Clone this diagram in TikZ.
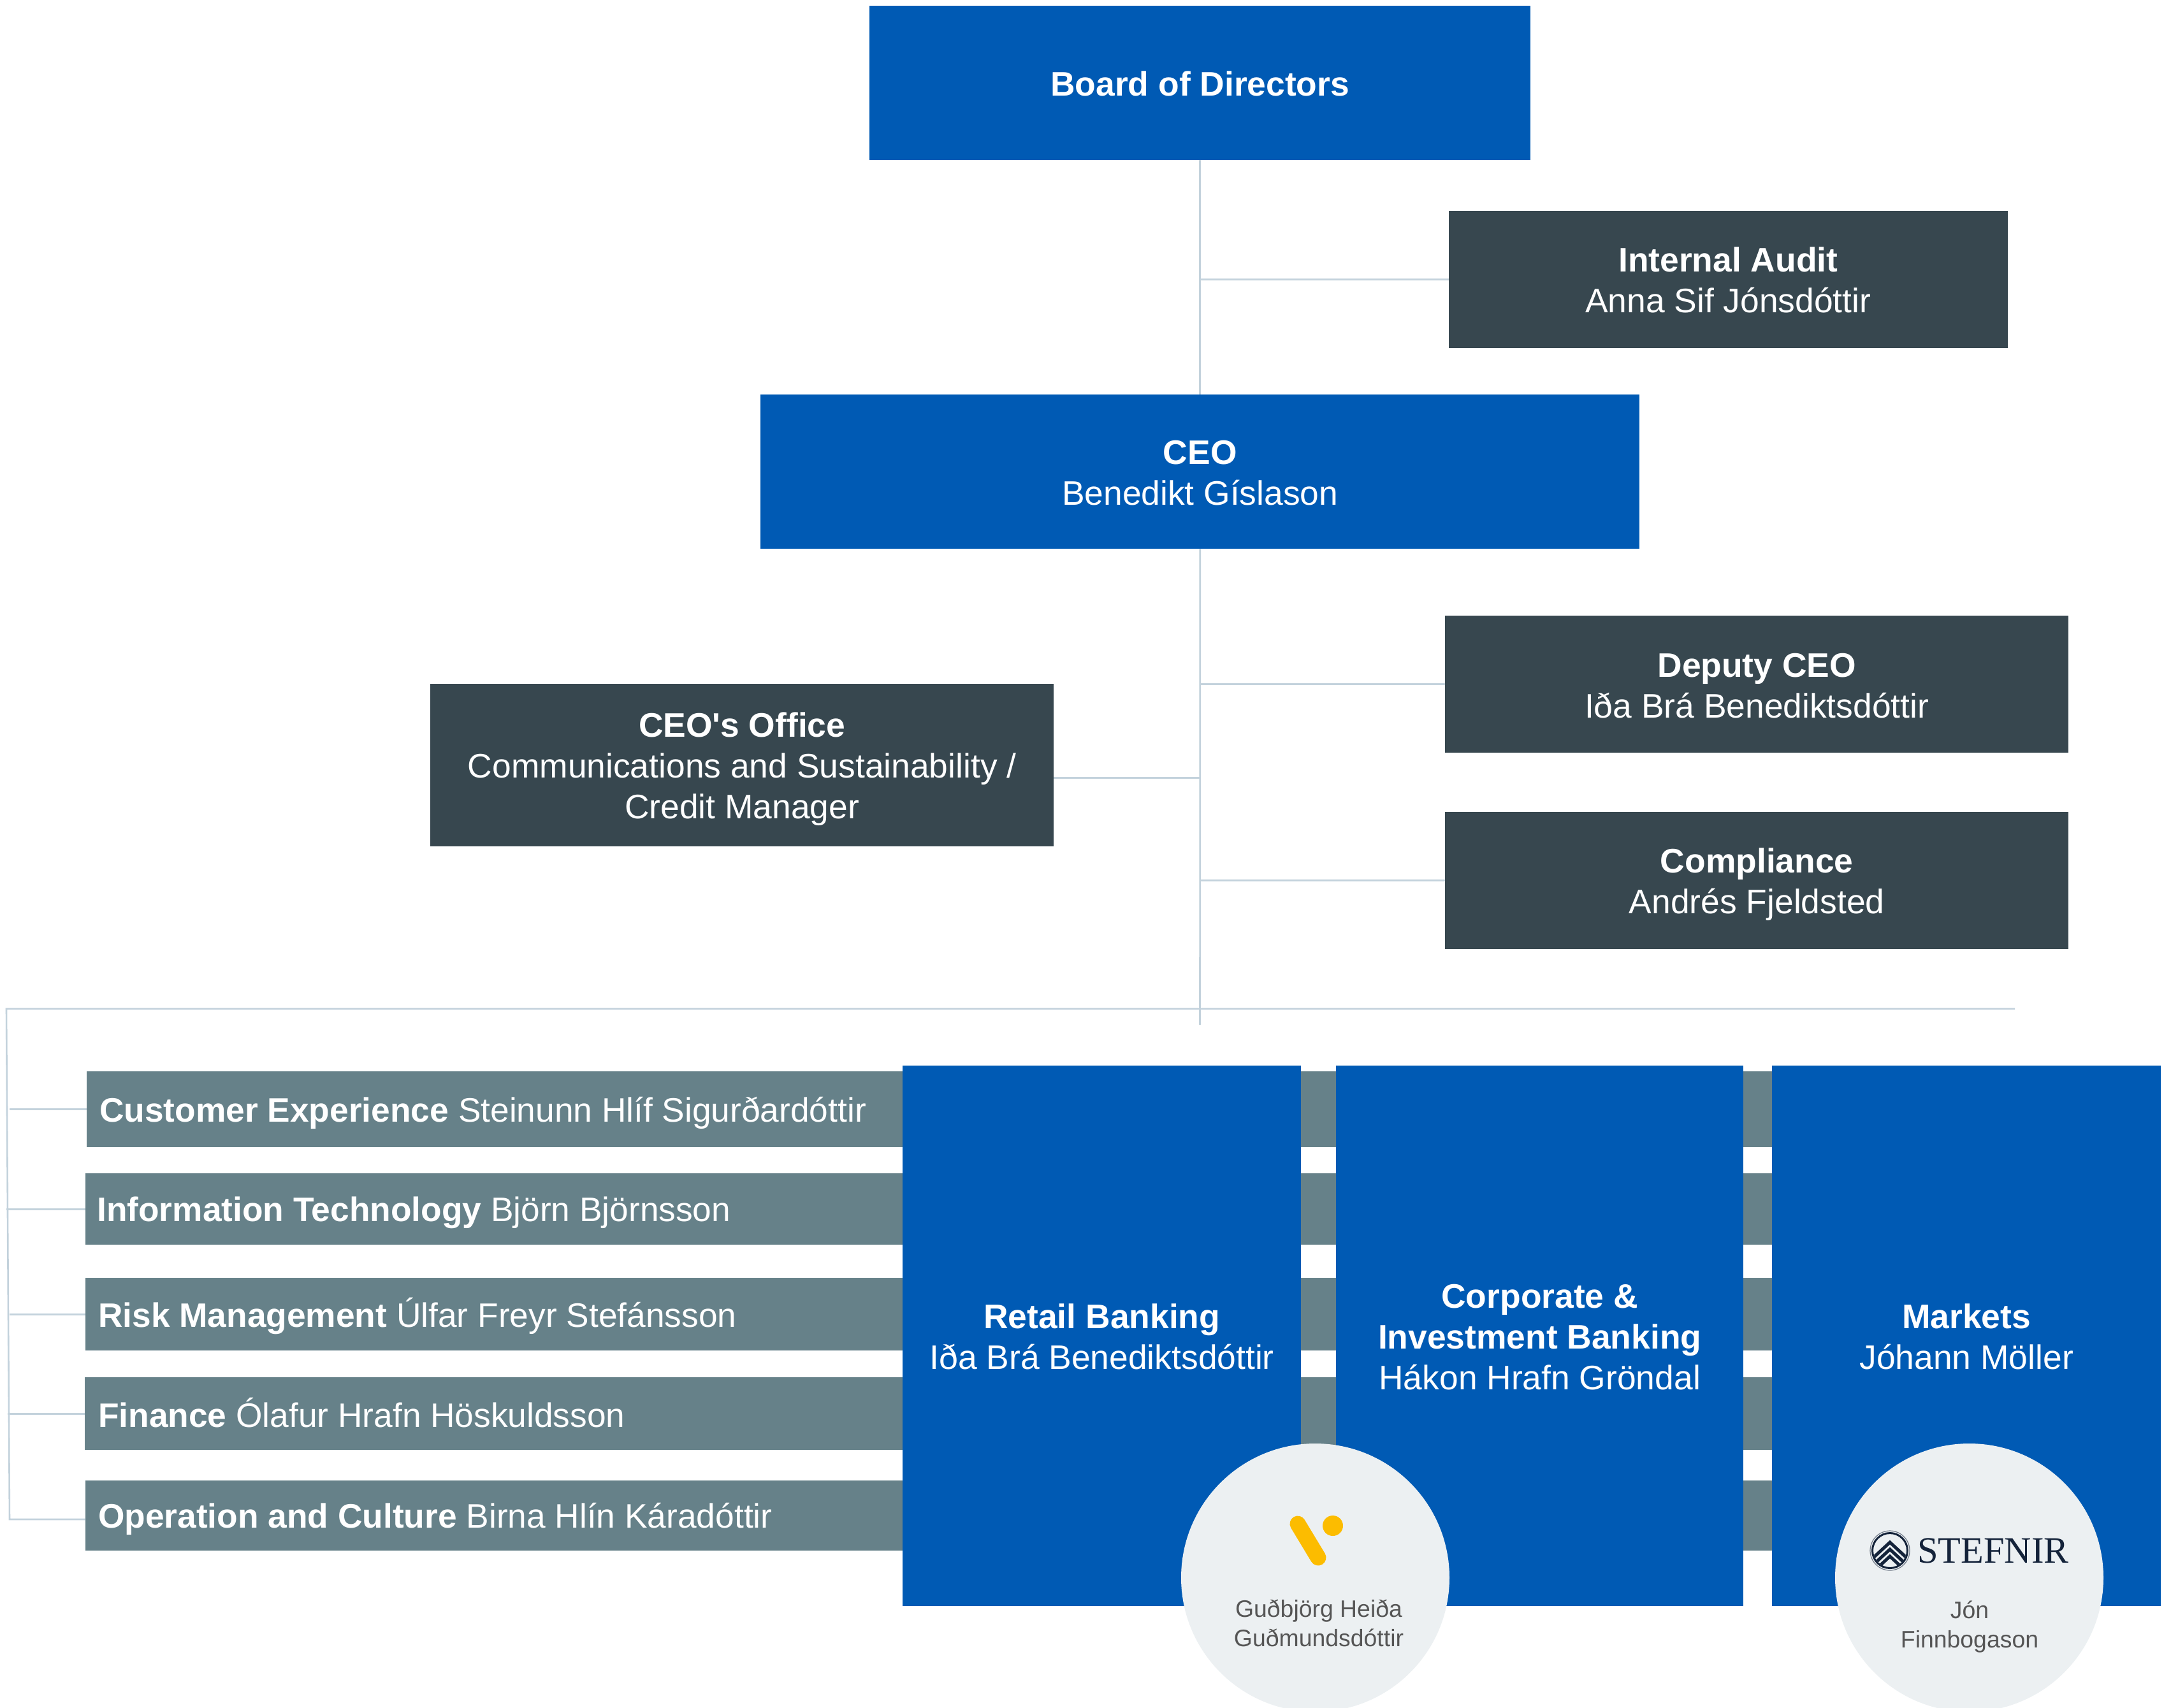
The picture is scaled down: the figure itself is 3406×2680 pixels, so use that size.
\documentclass[tikz,border=0pt]{standalone}
\usepackage{fontspec}
\setmainfont{Liberation Sans}
\newfontfamily\plainfont{Liberation Sans}
\newcommand{\bodyfont}{\fontsize{53.4}{64}\selectfont}
\newcommand{\barfont}{\fontsize{53.3}{64}\selectfont}
\newcommand{\straightq}{{\plainfont\bfseries\char39}}
\definecolor{bluebox}{HTML}{005AB4}
\definecolor{darkbox}{HTML}{37474F}
\definecolor{graybar}{HTML}{668189}
\definecolor{linecol}{HTML}{C3D2DC}
\definecolor{circlecol}{HTML}{ECF0F2}
\definecolor{logoyellow}{HTML}{FCBC00}
\definecolor{logonavy}{HTML}{14233A}
\definecolor{greytext}{HTML}{555555}
\tikzset{
 x=1pt,y=-1pt,
 box/.style={rectangle,anchor=north west,inner sep=0pt},
 bluenode/.style={box,fill=bluebox},
 darknode/.style={box,fill=darkbox},
 barnode/.style={box,fill=graybar},
 lbl/.style={inner sep=0pt,align=center,text=white,font=\bodyfont},
 barlbl/.style={inner sep=0pt,anchor=west,align=left,text=white,font=\barfont},
 conn/.style={draw=linecol,line width=2.6pt},
 circ/.style={circle,fill=circlecol,inner sep=0pt},
 small/.style={inner sep=0pt,align=center,text=greytext,font=\fontsize{37.4}{46}\selectfont},
}
\begin{document}
\begin{tikzpicture}
\useasboundingbox (0,0) rectangle (3406,2680);
\clip (0,0) rectangle (3406,2680);
% gray bars
\node[barnode,minimum width=2644pt,minimum height=119pt] (cx) at (136,1681) {};
\node[barnode,minimum width=2646pt,minimum height=112pt] (it) at (134,1841) {};
\node[barnode,minimum width=2646pt,minimum height=114pt] (risk) at (134,2005) {};
\node[barnode,minimum width=2647pt,minimum height=114pt] (fin) at (133,2161) {};
\node[barnode,minimum width=2646pt,minimum height=110pt] (ops) at (134,2323) {};
\node[barlbl] (cxT) at ([xshift=20pt,yshift=-5.5pt]cx.west) {\textbf{Customer Experience} Steinunn Hlíf Sigurðardóttir};
\node[barlbl] (itT) at ([xshift=18pt,yshift=-6pt]it.west) {\textbf{Information Technology} Björn Björnsson};
\node[barlbl] (riskT) at ([xshift=20pt,yshift=-3pt]risk.west) {\textbf{Risk Management} Úlfar Freyr Stefánsson};
\node[barlbl] (finT) at ([xshift=21pt,yshift=2pt]fin.west) {\textbf{Finance} Ólafur Hrafn Höskuldsson};
\node[barlbl] (opsT) at ([xshift=20pt,yshift=-5.5pt]ops.west) {\textbf{Operation and Culture} Birna Hlín Káradóttir};
% top boxes
\node[bluenode,minimum width=1037pt,minimum height=242pt] (board) at (1364,9) {};
\node[bluenode,minimum width=1379pt,minimum height=242pt] (ceo) at (1193,619) {};
\node[darknode,minimum width=877pt,minimum height=215pt] (audit) at (2272.5,331) {};
\node[darknode,minimum width=978pt,minimum height=215pt] (deputy) at (2267,966) {};
\node[darknode,minimum width=978pt,minimum height=215pt] (comp) at (2267,1274) {};
\node[darknode,minimum width=978pt,minimum height=255pt] (office) at (675,1073) {};
% division boxes
\node[bluenode,minimum width=625pt,minimum height=848pt] (retail) at (1416,1672) {};
\node[bluenode,minimum width=639pt,minimum height=848pt] (corp) at (2096,1672) {};
\node[bluenode,minimum width=610pt,minimum height=848pt] (mkts) at (2780,1672) {};
% box labels
\node[lbl] (boardT) at ([yshift=-1pt]board.center) {\textbf{Board of Directors}};
\node[lbl] (ceoT) at ([yshift=-2pt]ceo.center) {\textbf{CEO}\\Benedikt Gíslason};
\node[lbl] (auditT) at ([yshift=-1pt]audit.center) {\textbf{Internal Audit}\\Anna Sif Jónsdóttir};
\node[lbl] (deputyT) at ([yshift=-2pt]deputy.center) {\textbf{Deputy CEO}\\Iða Brá Benediktsdóttir};
\node[lbl] (compT) at ([yshift=-6pt]comp.center) {\textbf{Compliance}\\Andrés Fjeldsted};
\node[lbl] (officeT) at ([yshift=-6pt]office.center) {\textbf{CEO\straightq{}s Office}\\Communications and Sustainability /\\Credit Manager};
\node[lbl] (retailT) at ([yshift=-1pt]retail.center) {\textbf{Retail Banking}\\Iða Brá Benediktsdóttir};
\node[lbl] (corpT) at ([yshift=-2pt]corp.center) {\textbf{Corporate \&}\\\textbf{Investment Banking}\\Hákon Hrafn Gröndal};
\node[lbl] (mktsT) at ([yshift=-1pt]mkts.center) {\textbf{Markets}\\Jóhann Möller};
% connectors
\coordinate (trunkend) at (1882.5,1608);
\coordinate (railright) at (3161,1583);
\coordinate (railleft) at (10,1583);
\coordinate (railbottom) at (15,2384);
\draw[conn] (board.south) -- (ceo.north);
\draw[conn] (ceo.south) -- (trunkend);
\draw[conn] (audit.west) -- (audit.west -| board.south);
\draw[conn] (deputy.west) -- (deputy.west -| ceo.south);
\draw[conn] (comp.west) -- (comp.west -| ceo.south);
\draw[conn] ([yshift=-19.5pt]office.east) -- ([yshift=-19.5pt]office.east -| ceo.south);
\draw[conn] (railright) -- (railleft) -- (railbottom) -- (ops.west |- railbottom);
\draw[conn] (cx.west) -- (cx.west -| railbottom);
\draw[conn] (it.west) -- (it.west -| railleft);
\draw[conn] (risk.west) -- (risk.west -| railbottom);
\draw[conn] (fin.west) -- ++(-121,0);
% circles
\node[circ,minimum size=421pt] (c1) at (2063.5,2475.5) {};
\node[circ,minimum size=421pt] (c2) at (3089.5,2475.5) {};
\node[small] (n1) at (2069,2546.5) {Guðbjörg Heiða\\Guðmundsdóttir};
\node[small] (n2) at (3090,2553) {Jón\\Finnbogason};
% yellow logo
\draw[logoyellow,line width=25pt,line cap=round] (2036,2391) -- (2068,2444);
\fill[logoyellow] (2091,2394) circle (16);
% Stefnir logo
\draw[logonavy!60,line width=1.2pt] (2965,2433) circle (31);
\draw[logonavy,line width=3pt] (2965,2433) circle (27.5);
\begin{scope}
\clip (2965,2433) circle (26);
\draw[logonavy,line width=5pt] (2938,2445) -- (2965,2420) -- (2992,2445);
\draw[logonavy,line width=5pt] (2938,2456) -- (2965,2431) -- (2992,2456);
\draw[logonavy,line width=5pt] (2938,2467) -- (2965,2442) -- (2992,2467);
\end{scope}
\node[inner sep=0pt,anchor=west,text=logonavy,font=\fontspec{Liberation Serif}\fontsize{58.5}{60}\selectfont] (stef) at (3008,2433) {STEFNIR};
\end{tikzpicture}
\end{document}
